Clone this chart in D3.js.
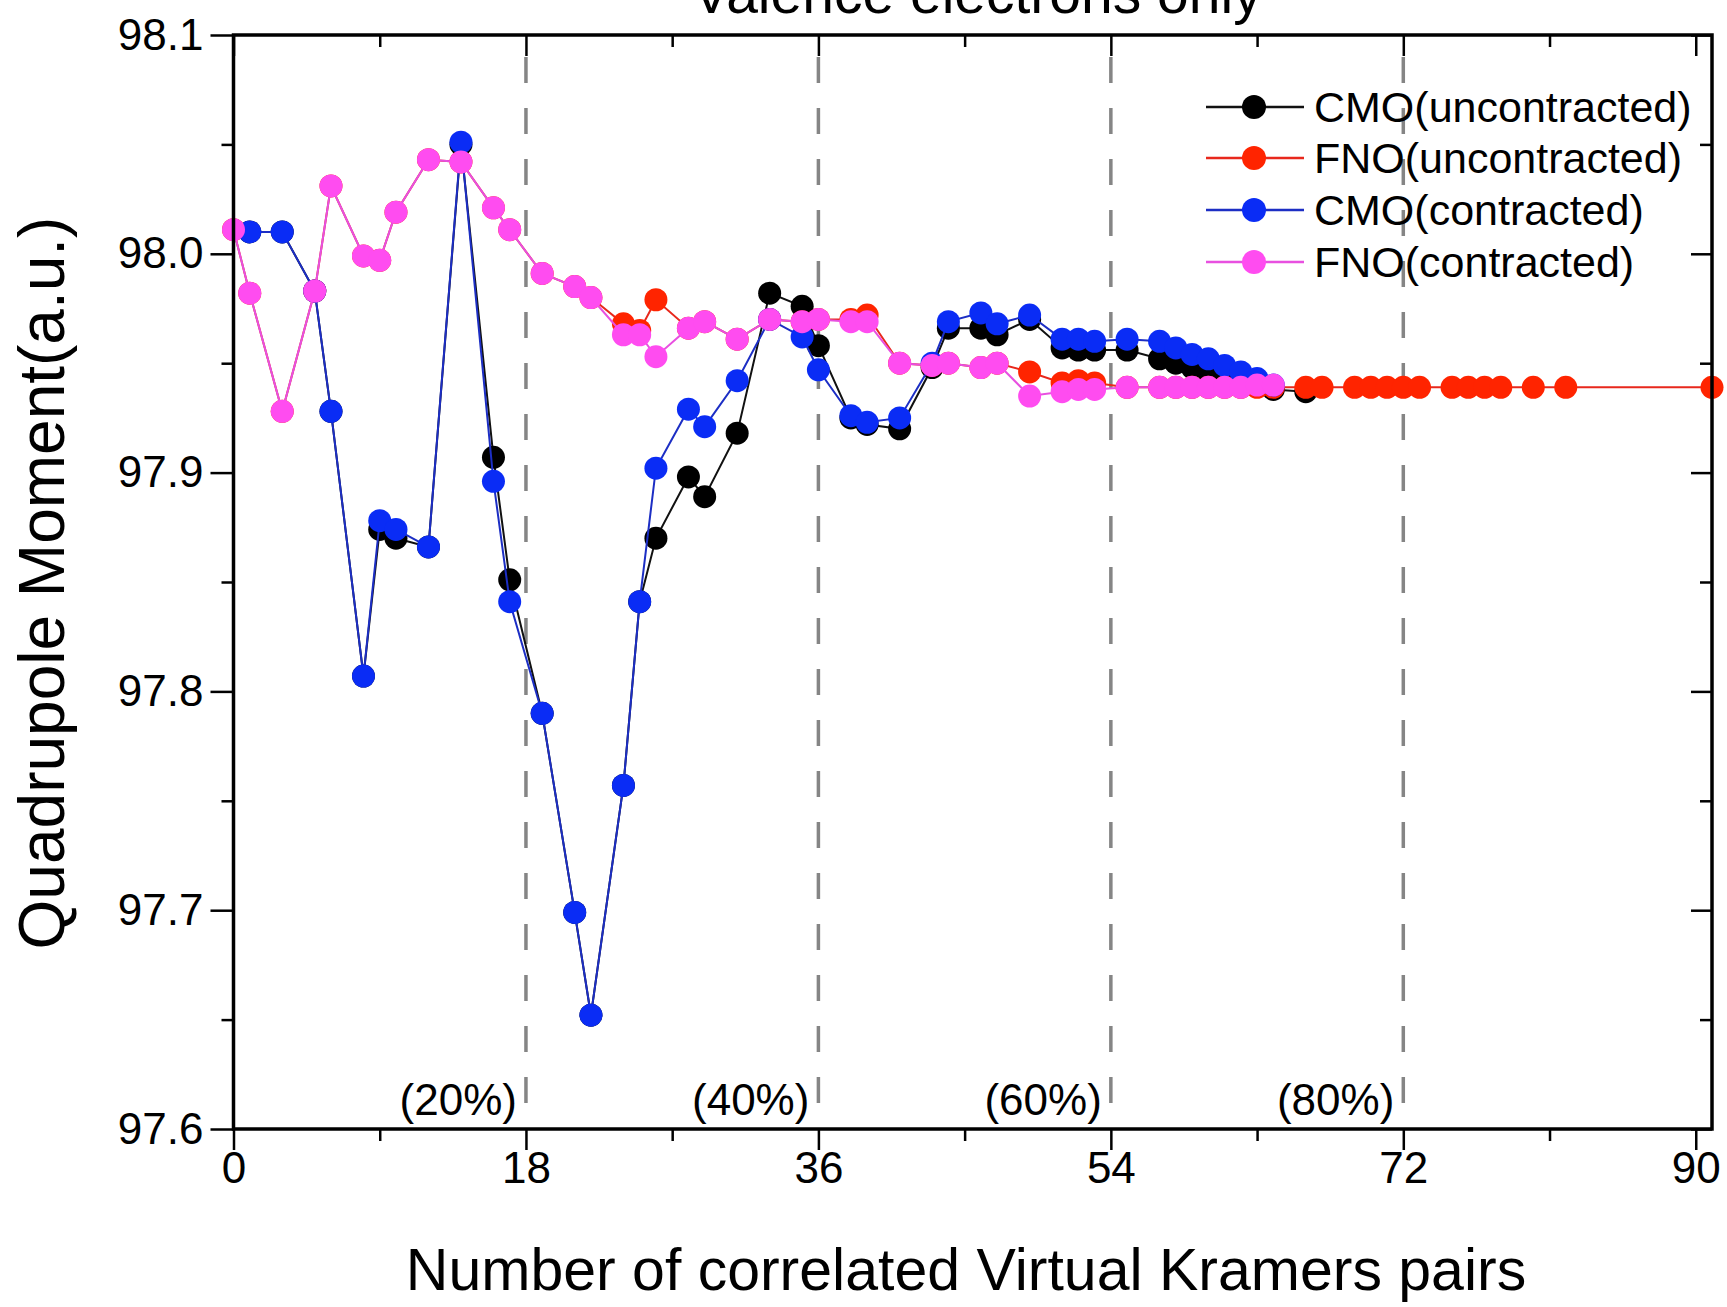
<!DOCTYPE html>
<html>
<head>
<meta charset="utf-8">
<script src="https://cdn.jsdelivr.net/npm/d3@7/dist/d3.min.js"></script>
<style>
  html, body { margin: 0; padding: 0; background: #fff; }
  svg { display: block; font-family: "Liberation Sans", Arial, sans-serif; }
</style>
</head>
<body>
<svg id="chart" width="1727" height="1307"></svg>
<script>
// ---------------- data ----------------
const seriesNames = ["CMO(uncontracted)", "FNO(uncontracted)", "CMO(contracted)", "FNO(contracted)"];

const cmoUncX = [1,3,5,6,8,9,10,12,14,16,17,19,21,22,24,25,26,28,29,31,33,35,36,38,39,41,43,44,46,47,49,51,52,53,55,57,58,59,60,61,62,64,66];
const cmoUncY = [98.010,98.010,97.983,97.928,97.807,97.874,97.870,97.866,98.050,97.907,97.851,97.790,97.699,97.652,97.757,97.841,97.870,97.898,97.889,97.918,97.982,97.976,97.958,97.925,97.922,97.920,97.948,97.966,97.966,97.963,97.970,97.957,97.956,97.956,97.956,97.952,97.950,97.948,97.946,97.944,97.942,97.938,97.937];

const fnoUncX = [0,1,3,5,6,8,9,10,12,14,16,17,19,21,22,24,25,26,28,29,31,33,35,36,38,39,41,43,44,46,47,49,51,52,53,55,57,58,59,60,61,62,63,64,66,67,69,70,71,72,73,75,76,77,78,80,82,91];
const fnoUncY = [98.011,97.982,97.928,97.983,98.031,97.999,97.997,98.019,98.043,98.042,98.021,98.011,97.991,97.985,97.980,97.968,97.965,97.979,97.966,97.969,97.961,97.970,97.969,97.970,97.970,97.972,97.950,97.949,97.950,97.948,97.950,97.946,97.941,97.942,97.941,97.939,97.939,97.939,97.939,97.939,97.939,97.939,97.939,97.939,97.939,97.939,97.939,97.939,97.939,97.939,97.939,97.939,97.939,97.939,97.939,97.939,97.939,97.939];

const cmoConX = [1,3,5,6,8,9,10,12,14,16,17,19,21,22,24,25,26,28,29,31,33,35,36,38,39,41,43,44,46,47,49,51,52,53,55,57,58,59,60,61,62,63,64];
const cmoConY = [98.010,98.010,97.983,97.928,97.807,97.878,97.874,97.866,98.051,97.896,97.841,97.790,97.699,97.652,97.757,97.841,97.902,97.929,97.921,97.942,97.970,97.962,97.947,97.926,97.923,97.925,97.950,97.969,97.973,97.968,97.972,97.961,97.961,97.960,97.961,97.960,97.957,97.954,97.952,97.949,97.946,97.943,97.940];

const fnoConX = [0,1,3,5,6,8,9,10,12,14,16,17,19,21,22,24,25,26,28,29,31,33,35,36,38,39,41,43,44,46,47,49,51,52,53,55,57,58,59,60,61,62,63,64];
const fnoConY = [98.011,97.982,97.928,97.983,98.031,97.999,97.997,98.019,98.043,98.042,98.021,98.011,97.991,97.985,97.980,97.963,97.963,97.953,97.966,97.969,97.961,97.970,97.969,97.970,97.969,97.969,97.950,97.949,97.950,97.948,97.950,97.935,97.937,97.938,97.938,97.939,97.939,97.939,97.939,97.939,97.939,97.939,97.940,97.940];

const xTicks = [0, 18, 36, 54, 72, 90];
const xMinorTicks = [9, 27, 45, 63, 81];
const yTicks = [97.6, 97.7, 97.8, 97.9, 98.0, 98.1];
const yMinorTicks = [97.65, 97.75, 97.85, 97.95, 98.05];
const refLines = [18, 36, 54, 72];
const refLabels = ["(20%)", "(40%)", "(60%)", "(80%)"];

const titleText = "Valence electrons only";
const xTitle = "Number of correlated Virtual Kramers pairs";
const yTitle = "Quadrupole Moment(a.u.)";

// ---------------- styles ----------------
const markerColors = ["#000000", "#ff2400", "#0a2cf5", "#ff4cf0"];
const lineColors   = ["#111111", "#e8281c", "#1c2ec4", "#e850e0"];

const series = [
  { name: seriesNames[0], xs: cmoUncX, ys: cmoUncY },
  { name: seriesNames[1], xs: fnoUncX, ys: fnoUncY },
  { name: seriesNames[2], xs: cmoConX, ys: cmoConY },
  { name: seriesNames[3], xs: fnoConX, ys: fnoConY }
].map((s, i) => ({ ...s, mc: markerColors[i], lc: lineColors[i],
  pts: s.xs.map((x, j) => ({ x, y: s.ys[j] })) }));

// ---------------- layout ----------------
const L = 233.5, R = 1712, T = 35, B = 1129;
const svg = d3.select("#chart");
const x = d3.scaleLinear().domain([0, 91]).range([L, R]);
const y = d3.scaleLinear().domain([97.6, 98.1]).range([B, T]);

const font = '"Liberation Sans", Arial, sans-serif';

// dashed reference lines
svg.append("g").selectAll("line").data(refLines).join("line")
  .attr("x1", d => x(d)).attr("x2", d => x(d))
  .attr("y1", T).attr("y2", B)
  .attr("stroke", "#858585").attr("stroke-width", 3.5)
  .attr("stroke-dasharray", "26,25").attr("stroke-dashoffset", 29);

// reference labels
svg.append("g").selectAll("text").data(refLines).join("text")
  .attr("x", d => x(d) - 9).attr("y", 1115)
  .attr("text-anchor", "end")
  .attr("font-size", 44).attr("fill", "#000")
  .text((d, i) => refLabels[i]);

// series
const line = d3.line().x(d => x(d.x)).y(d => y(d.y));
series.forEach(s => {
  const g = svg.append("g");
  g.append("path").datum(s.pts).attr("d", line)
    .attr("fill", "none").attr("stroke", s.lc).attr("stroke-width", 2);
  g.selectAll("circle").data(s.pts).join("circle")
    .attr("cx", d => x(d.x)).attr("cy", d => y(d.y)).attr("r", 11.5)
    .attr("fill", s.mc);
});

// axes
const axG = svg.append("g");
function addAxis(gen, tx, ty) {
  const g = axG.append("g").attr("transform", `translate(${tx},${ty})`).call(gen);
  g.select(".domain").remove();
  g.selectAll("line").attr("stroke", "#000").attr("stroke-width", 2.5);
  return g;
}
// bottom major
const gb = addAxis(d3.axisBottom(x).tickValues(xTicks).tickSize(21).tickPadding(2).tickFormat(d3.format("d")), 0, B);
gb.selectAll("text").attr("font-size", 44).attr("font-family", font).attr("fill", "#000");
addAxis(d3.axisBottom(x).tickValues(xMinorTicks).tickSize(12).tickFormat(""), 0, B);
// top (inward)
addAxis(d3.axisBottom(x).tickValues(xTicks).tickSize(21).tickFormat(""), 0, T);
addAxis(d3.axisBottom(x).tickValues(xMinorTicks).tickSize(12).tickFormat(""), 0, T);
// left major
const gl = addAxis(d3.axisLeft(y).tickValues(yTicks).tickSize(23).tickPadding(7).tickFormat(d3.format(".1f")), L, 0);
gl.selectAll("text").attr("font-size", 44).attr("font-family", font).attr("fill", "#000");
addAxis(d3.axisLeft(y).tickValues(yMinorTicks).tickSize(12).tickFormat(""), L, 0);
// right (inward)
addAxis(d3.axisLeft(y).tickValues(yTicks).tickSize(21).tickFormat(""), R, 0);
addAxis(d3.axisLeft(y).tickValues(yMinorTicks).tickSize(12).tickFormat(""), R, 0);

// frame
axG.append("rect").attr("x", L).attr("y", T).attr("width", R - L).attr("height", B - T)
  .attr("fill", "none").attr("stroke", "#000").attr("stroke-width", 3.5);

// titles
svg.append("text").attr("x", 977).attr("y", 13).attr("text-anchor", "middle")
  .attr("font-size", 57).attr("fill", "#000").text(titleText);
svg.append("text").attr("x", 966).attr("y", 1290).attr("text-anchor", "middle")
  .attr("font-size", 59).attr("fill", "#000").text(xTitle);
svg.append("text").attr("transform", "translate(64,583) rotate(-90)")
  .attr("text-anchor", "middle").attr("font-size", 64).attr("fill", "#000").text(yTitle);

// legend
const legRows = [107, 158, 210, 262];
const lg = svg.append("g");
series.forEach((s, i) => {
  const yy = legRows[i];
  lg.append("line").attr("x1", 1206).attr("x2", 1304).attr("y1", yy).attr("y2", yy)
    .attr("stroke", s.lc).attr("stroke-width", 2.5);
  lg.append("circle").attr("cx", 1254).attr("cy", yy).attr("r", 12).attr("fill", s.mc);
  lg.append("text").attr("x", 1314).attr("y", yy).attr("dominant-baseline", "central")
    .attr("font-size", 43).attr("fill", "#000").text(s.name);
});
</script>
</body>
</html>
